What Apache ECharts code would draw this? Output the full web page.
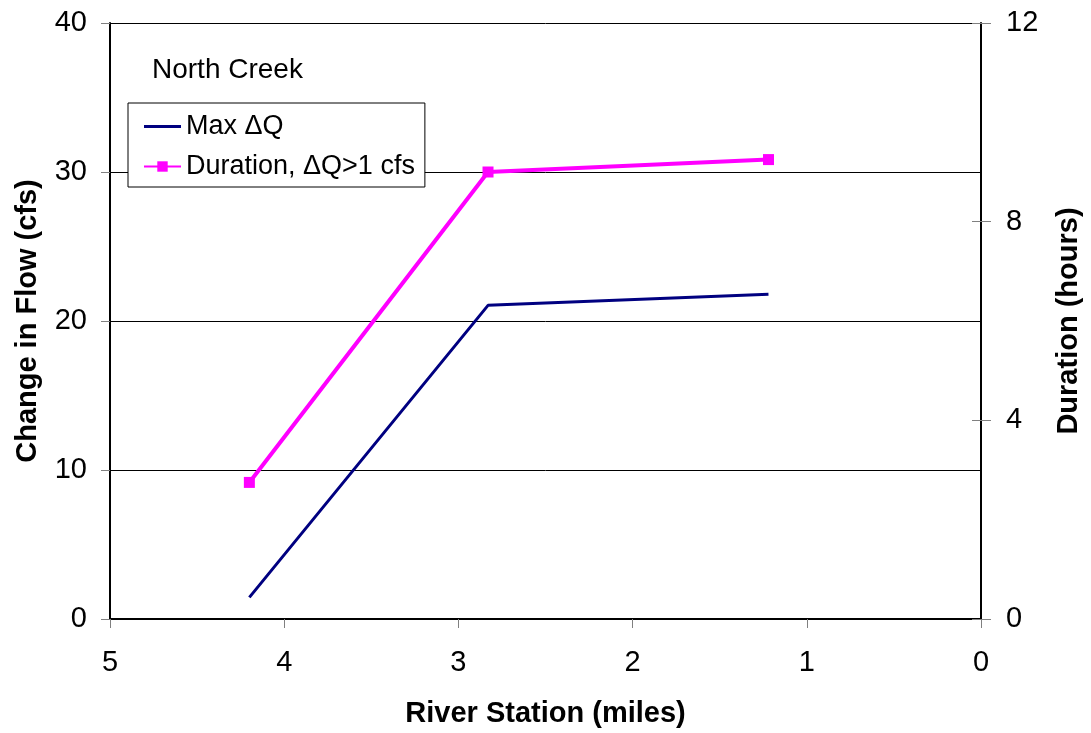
<!DOCTYPE html>
<html>
<head>
<meta charset="utf-8">
<script src="https://cdn.jsdelivr.net/npm/echarts@6/dist/echarts.min.js"></script>
<style>
  html, body { margin: 0; padding: 0; background: #fff; }
  #chart { width: 1091px; height: 733px; }
</style>
</head>
<body>
<div id="chart"></div>
<script>
// River station (miles upstream) for each sampled point
const stations = [4.2, 2.83, 1.22];
// Maximum change in flow (cfs)
const maxDeltaQ = [1.45, 21.05, 21.8];
// Duration with change in flow above 1 cfs (hours)
const durationHours = [2.75, 9.0, 9.25];

const leftTicks = [0, 10, 20, 30, 40];
const rightTicks = [0, 4, 8, 12];
const stationTicks = [0, 1, 2, 3, 4, 5];

const font = 'Liberation Sans, Arial, sans-serif';
const tickGray = '#808080';

const chart = echarts.init(document.getElementById('chart'));
chart.setOption({
  backgroundColor: '#ffffff',
  animation: false,
  title: {
    text: 'North Creek',
    left: 152, top: 56, padding: 0,
    textStyle: { fontFamily: font, fontSize: 28, fontWeight: 'normal', color: '#000' }
  },
  legend: {
    left: 128, top: 103,
    orient: 'vertical',
    padding: [10, 10, 7, 15],
    itemGap: 13,
    itemWidth: 37, itemHeight: 13,
    backgroundColor: '#fff',
    borderColor: '#000', borderWidth: 1, borderRadius: 0,
    textStyle: { fontFamily: font, fontSize: 27, color: '#000' },
    data: [
      { name: 'Max \u0394Q', icon: 'path://M0,0L37,0L37,3L0,3Z' },
      { name: 'Duration, \u0394Q>1 cfs' }
    ]
  },
  grid: { left: 110, right: 106, top: 23, bottom: 112, containLabel: false },
  xAxis: {
    type: 'value', inverse: true, min: 0, max: 5, interval: 1,
    name: 'River Station (miles)', nameLocation: 'middle', nameGap: 80,
    nameTextStyle: { fontFamily: font, fontSize: 29, fontWeight: 'bold', color: '#000' },
    axisLine: { onZero: false, lineStyle: { color: '#000', width: 2 } },
    axisTick: { show: true, length: 9, lineStyle: { color: tickGray } },
    axisLabel: { fontFamily: font, fontSize: 29, color: '#000', margin: 29,
      formatter: v => stationTicks.includes(v) ? String(v) : '' },
    splitLine: { show: false }
  },
  yAxis: [
    {
      type: 'value', min: 0, max: 40, interval: 10, position: 'left',
      name: 'Change in Flow (cfs)', nameLocation: 'middle', nameGap: 68, nameRotate: 90,
      nameTextStyle: { fontFamily: font, fontSize: 29, fontWeight: 'bold', color: '#000' },
      axisLine: { show: true, onZero: false, lineStyle: { color: '#000', width: 2 } },
      axisTick: { show: true, length: 9, lineStyle: { color: tickGray } },
      axisLabel: { fontFamily: font, fontSize: 29, color: '#000', margin: 23,
        formatter: v => leftTicks.includes(v) ? String(v) : '' },
      splitLine: { show: true, lineStyle: { color: '#000', width: 1 } }
    },
    {
      type: 'value', min: 0, max: 12, interval: 4, position: 'right',
      name: 'Duration (hours)', nameLocation: 'middle', nameGap: 73, nameRotate: 90,
      nameTextStyle: { fontFamily: font, fontSize: 29, fontWeight: 'bold', color: '#000' },
      axisLine: { show: true, onZero: false, lineStyle: { color: '#000', width: 2 } },
      axisTick: { show: true, length: 10, lineStyle: { color: tickGray } },
      axisLabel: { fontFamily: font, fontSize: 29, color: '#000', margin: 25,
        formatter: v => rightTicks.includes(v) ? String(v) : '' },
      splitLine: { show: false }
    },
    {
      // inner half of the right-axis tick marks
      type: 'value', min: 0, max: 12, interval: 4, position: 'right',
      axisLine: { show: false, onZero: false },
      axisTick: { show: true, inside: true, length: 9, lineStyle: { color: tickGray } },
      axisLabel: { show: false },
      splitLine: { show: false }
    }
  ],
  series: [
    {
      name: 'Max \u0394Q', type: 'line', yAxisIndex: 0,
      data: stations.map((s, i) => [s, maxDeltaQ[i]]),
      symbol: 'none',
      lineStyle: { color: '#000080', width: 3 },
      itemStyle: { color: '#000080' }
    },
    {
      name: 'Duration, \u0394Q>1 cfs', type: 'line', yAxisIndex: 1,
      data: stations.map((s, i) => [s, durationHours[i]]),
      symbol: 'rect', symbolSize: 11,
      lineStyle: { color: '#ff00ff', width: 4 },
      itemStyle: { color: '#ff00ff' }
    }
  ]
});
</script>
</body>
</html>
